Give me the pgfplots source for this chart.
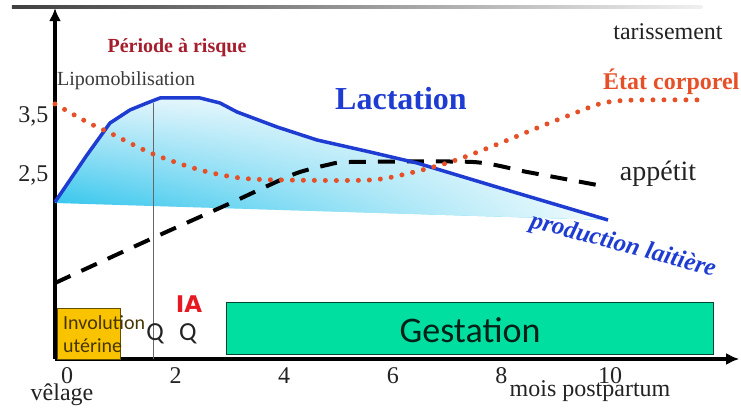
\documentclass[border=0pt]{standalone}
\usepackage{fontspec}
\setmainfont{Liberation Serif}
\newfontfamily\calibri{Carlito}
\newfontfamily\dejavu{DejaVu Sans}
\usepackage{pgfplots}
\pgfplotsset{compat=1.18}
\usetikzlibrary{arrows.meta,fadings}

\definecolor{lactblue}{RGB}{30,60,210}
\definecolor{fillcyan}{RGB}{30,192,235}
\definecolor{fillmid}{RGB}{110,214,242}
\definecolor{filltop}{RGB}{222,244,252}
\definecolor{etatred}{RGB}{230,80,40}
\definecolor{risque}{RGB}{165,30,45}
\definecolor{iared}{RGB}{230,25,35}
\definecolor{involut}{RGB}{250,195,0}
\definecolor{gestat}{RGB}{0,222,160}
\definecolor{txt}{RGB}{35,35,35}

\tikzfading[name=towhite, left color=transparent!100, middle color=transparent!94, right color=transparent!5]

\newcommand{\fs}[1]{\fontsize{#1}{#1}\selectfont}

\begin{document}
\begin{tikzpicture}
\useasboundingbox (-55pt,-53pt) rectangle (686pt,359pt);
\clip (-55pt,-53pt) rectangle (686pt,359pt);
\begin{axis}[
  at={(0pt,0pt)}, anchor=south west,
  x=54.3pt, y=59pt,
  xmin=-0.221, xmax=12.38,
  ymin=-0.619, ymax=5.33,
  axis lines=left,
  axis line style={line width=3.5pt, -{Latex[length=13pt,width=12pt]}},
  clip=false,
  major tick length=0pt,
  xtick={0,2,4,6,8,10},
  xticklabels={0,2,4,6,8,10},
  ytick={2.5,3.5},
  yticklabels={{2,5},{3,5}},
  ticklabel style={font=\fs{24}, text=txt},
  xticklabel style={anchor=base, yshift=-24pt},
  yticklabel style={xshift=-3pt},
]
% Lactation: area under the curve (light at the top, cyan below, white to the right)
\addplot[draw=none, top color=filltop, middle color=fillmid, bottom color=fillcyan]
coordinates {
(-0.221,2.042) (0.368,2.839) (0.792,3.381) (1.160,3.602) (1.473,3.720)
(1.713,3.805) (2.449,3.805) (2.818,3.720) (3.131,3.568) (3.867,3.314)
(4.604,3.093) (5.580,2.890) (6.446,2.703) (7.974,2.280) (9.963,1.737)
(-0.221,2.025)
} -- cycle;
\addplot[draw=none, fill=white, path fading=towhite]
coordinates {
(-0.221,2.042) (0.368,2.839) (0.792,3.381) (1.160,3.602) (1.473,3.720)
(1.713,3.805) (2.449,3.805) (2.818,3.720) (3.131,3.568) (3.867,3.314)
(4.604,3.093) (5.580,2.890) (6.446,2.703) (7.974,2.280) (9.963,1.737)
(-0.221,2.025)
} -- cycle;

% Involution uterine / Gestation boxes
\addplot[fill=involut, draw=black!60!involut, line width=0.8pt]
coordinates {(-0.184,-0.619) (-0.184,0.246) (0.976,0.246) (0.976,-0.619)} -- cycle;
\addplot[fill=gestat, draw=black!70!gestat, line width=0.8pt]
coordinates {(2.928,-0.534) (2.928,0.347) (11.897,0.347) (11.897,-0.534)} -- cycle;

% vertical mark
\addplot[black!60, line width=0.8pt] coordinates {(1.584,3.720) (1.584,-0.619)};

% appetit
\addplot[black, line width=4pt, dash pattern=on 17pt off 12pt, smooth, tension=0.4]
coordinates {
(-0.221,0.669) (1.584,1.432) (3.057,2.042) (3.610,2.280) (4.236,2.534)
(4.788,2.669) (5.212,2.720) (7.477,2.720) (8.471,2.551) (9.761,2.331)
};

% Lactation curve
\addplot[lactblue, line width=3.5pt, line join=round]
coordinates {
(-0.221,2.042) (0.368,2.839) (0.792,3.381) (1.160,3.602) (1.473,3.720)
(1.713,3.805) (2.449,3.805) (2.818,3.720) (3.131,3.568) (3.867,3.314)
(4.604,3.093) (5.580,2.890) (6.446,2.703) (7.974,2.280) (9.963,1.737)
};

% Etat corporel
\addplot[etatred, line width=5pt, line cap=round, dash pattern=on 0pt off 11pt, smooth, tension=0.5]
coordinates {
(-0.221,3.703) (0.368,3.398) (0.792,3.212) (1.584,2.856) (2.449,2.585)
(3.186,2.449) (3.978,2.415) (5.580,2.415) (6.317,2.534) (6.998,2.703)
(7.422,2.839) (8.029,3.059) (8.656,3.297) (9.263,3.517) (9.871,3.720)
(10.497,3.771) (11.786,3.771)
};

% texts
\node[anchor=base, text=risque, font=\bfseries\fs{20}] at (axis cs:2.026,4.568) {Période à risque};
\node[anchor=base west, text=txt!90!white, font=\fs{20}, inner sep=0pt] at (axis cs:-0.184,4.025) {Lipomobilisation};
\node[anchor=base, text=lactblue, font=\bfseries\fs{32}] at (axis cs:6.151,3.602) {Lactation};
\node[anchor=base, text=txt, font=\fs{24}] at (axis cs:11.068,4.788) {tarissement};
\node[anchor=base west, text=etatred, font=\bfseries\fs{24}, inner sep=0pt] at (axis cs:9.871,3.941) {État corporel};
\node[anchor=base, text=txt, font=\fs{28}] at (axis cs:10.884,2.398) {appétit};
\node[rotate=-15, text=lactblue, font=\bfseries\itshape\fs{25}] at (axis cs:10.239,1.297) {production laitière};
\node[anchor=base west, text=black!72!involut, font=\calibri\fs{20}, inner sep=0pt] at (axis cs:-0.074,-0.127) {Involution};
\node[anchor=base west, text=black!72!involut, font=\calibri\fs{20}, inner sep=0pt] at (axis cs:-0.074,-0.517) {utérine};
\node[anchor=base, text=txt, font=\calibri\fs{26}] at (axis cs:1.621,-0.297) {Q};
\node[anchor=base, text=txt, font=\calibri\fs{26}] at (axis cs:2.228,-0.297) {Q};
\node[anchor=base, text=iared, font=\dejavu\bfseries\fs{23}] at (axis cs:2.247,0.161) {IA};
\node[anchor=base, text=black!85!gestat, font=\calibri\fs{36}] at (axis cs:7.422,-0.331) {Gestation};
\node[anchor=base, text=txt, font=\fs{24}] at (axis cs:-0.092,-1.314) {vêlage};
\node[anchor=base, text=txt, font=\fs{24}] at (axis cs:9.632,-1.263) {mois postpartum};

% slide rule at the top
\shade[left color=black!75, right color=black!6] (axis cs:-1.013,5.32) rectangle (axis cs:11.7,5.37);
\end{axis}
\end{tikzpicture}
\end{document}
